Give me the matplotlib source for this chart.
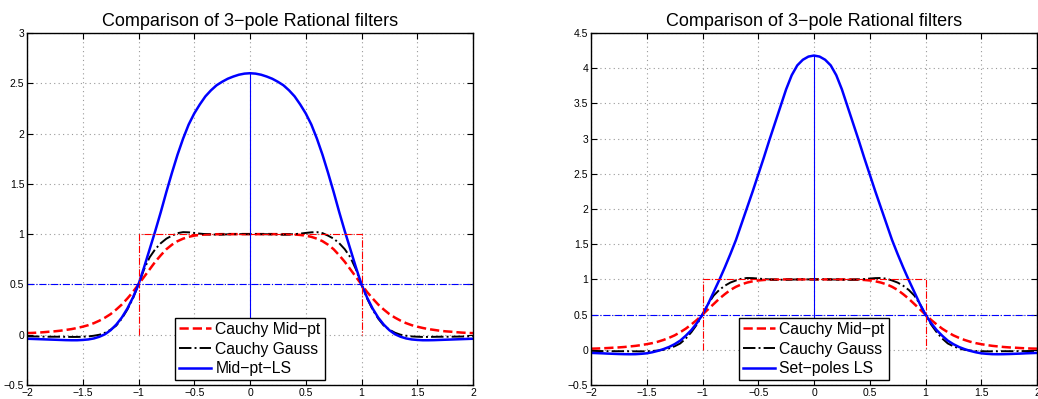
import matplotlib
matplotlib.use('Agg')
import matplotlib.pyplot as plt
import numpy as np

plt.rcParams['font.family'] = ['Liberation Sans', 'DejaVu Sans']
plt.rcParams['axes.unicode_minus'] = True

# half curves, x = 0 .. 2 step 0.05 (mirrored for x < 0)
x_half = [0.0, 0.05, 0.1, 0.15, 0.2, 0.25, 0.3, 0.35, 0.4, 0.45, 0.5,
          0.55, 0.6, 0.65, 0.7, 0.75, 0.8, 0.85, 0.9, 0.95, 1.0,
          1.05, 1.1, 1.15, 1.2, 1.25, 1.3, 1.35, 1.4, 1.45, 1.5,
          1.55, 1.6, 1.65, 1.7, 1.75, 1.8, 1.85, 1.9, 1.95, 2.0]
cauchy_mid = [1.0, 1.0, 1.0, 1.0, 1.0, 1.0, 0.999, 0.998, 0.996, 0.992, 0.985,
              0.973, 0.955, 0.93, 0.895, 0.85, 0.79, 0.725, 0.65, 0.575, 0.5,
              0.425, 0.36, 0.3, 0.25, 0.205, 0.17, 0.14, 0.115, 0.095, 0.08,
              0.067, 0.056, 0.048, 0.04, 0.034, 0.03, 0.025, 0.021, 0.018, 0.016]
cauchy_gauss = [1.0, 1.0, 1.0, 0.999, 0.998, 0.996, 0.995, 0.997, 1.0, 1.005, 1.012,
                1.018, 1.02, 1.01, 0.985, 0.955, 0.91, 0.85, 0.77, 0.65, 0.5,
                0.36, 0.25, 0.16, 0.09, 0.05, 0.02, 0.0, -0.01, -0.017, -0.02,
                -0.022, -0.022, -0.021, -0.02, -0.02, -0.02, -0.019, -0.018, -0.017, -0.015]
midpt_ls = [2.6, 2.596, 2.585, 2.567, 2.545, 2.515, 2.48, 2.43, 2.37, 2.29, 2.2,
            2.09, 1.95, 1.79, 1.61, 1.42, 1.22, 1.03, 0.85, 0.67, 0.5,
            0.37, 0.26, 0.17, 0.1, 0.045, 0.005, -0.02, -0.037, -0.047, -0.052,
            -0.055, -0.055, -0.054, -0.052, -0.05, -0.048, -0.046, -0.044, -0.042, -0.04]
setpoles_ls = [4.18, 4.165, 4.12, 4.04, 3.9, 3.7, 3.46, 3.22, 2.98, 2.73, 2.49,
               2.25, 2.02, 1.79, 1.56, 1.36, 1.17, 0.99, 0.82, 0.65, 0.5,
               0.38, 0.28, 0.2, 0.13, 0.08, 0.04, 0.01, -0.015, -0.035, -0.05,
               -0.057, -0.062, -0.063, -0.062, -0.06, -0.057, -0.054, -0.05, -0.047, -0.044]

box_x = [-1, -1, 1, 1]
box_y = [0, 1, 1, 0]
half_level = 0.5

xticks = [-2, -1.5, -1, -0.5, 0, 0.5, 1, 1.5, 2]
xticklabels = ['\u22122', '\u22121.5', '\u22121', '\u22120.5', '0', '0.5', '1', '1.5', '2']
left_yticks = [-0.5, 0, 0.5, 1, 1.5, 2, 2.5, 3]
left_yticklabels = ['\u22120.5', '0', '0.5', '1', '1.5', '2', '2.5', '3']
right_yticks = [-0.5, 0, 0.5, 1, 1.5, 2, 2.5, 3, 3.5, 4, 4.5]
right_yticklabels = ['\u22120.5', '0', '0.5', '1', '1.5', '2', '2.5', '3', '3.5', '4', '4.5']

title = 'Comparison of 3\u2212pole Rational filters'


def mirror(v):
    v = np.asarray(v, float)
    return np.concatenate([v[:0:-1], v])


x = np.concatenate([-np.asarray(x_half)[:0:-1], np.asarray(x_half)])


def draw(ax, ls_vals, ls_label, yticks, yticklabels):
    ls = mirror(ls_vals)
    ax.plot(x, mirror(cauchy_mid), color='red', ls='--', lw=1.8, label='Cauchy Mid\u2212pt')
    ax.plot(x, mirror(cauchy_gauss), color='black', ls='-.', lw=1.4, label='Cauchy Gauss')
    ax.plot(x, ls, color='blue', ls='-', lw=1.8, label=ls_label)
    ax.plot(box_x, box_y, color='red', ls='-.', lw=0.8)
    ax.axhline(half_level, color='blue', ls='-.', lw=0.8)
    ax.plot([0, 0], [0, ls.max()], color='blue', lw=0.8)

    ax.set_xlim(-2, 2)
    ax.set_ylim(yticks[0], yticks[-1])
    ax.set_xticks(xticks)
    ax.set_xticklabels(xticklabels)
    ax.set_yticks(yticks)
    ax.set_yticklabels(yticklabels)
    ax.tick_params(direction='in', top=True, right=True, labelsize=7.5, length=4, width=0.8, pad=2)
    ax.grid(True, ls=(0, (1, 3)), color='#999999', lw=0.8)
    for s in ax.spines.values():
        s.set_linewidth(1.0)
    ax.set_title(title, fontsize=13, pad=5)
    leg = ax.legend(loc='lower center', fontsize=11.3, fancybox=False, framealpha=1,
                    edgecolor='black', borderpad=0.25, labelspacing=0.3,
                    handlelength=2.0, handletextpad=0.3, borderaxespad=0.3)
    leg.get_frame().set_linewidth(1.0)


fig = plt.figure(figsize=(10.38, 3.99), dpi=100, facecolor='white')
ax1 = fig.add_axes([27 / 1038, 14 / 399, 446 / 1038, 352 / 399])
ax2 = fig.add_axes([591 / 1038, 14 / 399, 446 / 1038, 352 / 399])

draw(ax1, midpt_ls, 'Mid\u2212pt\u2212LS', left_yticks, left_yticklabels)
draw(ax2, setpoles_ls, 'Set\u2212poles LS', right_yticks, right_yticklabels)

fig.savefig('out.png', dpi=100, facecolor='white')
